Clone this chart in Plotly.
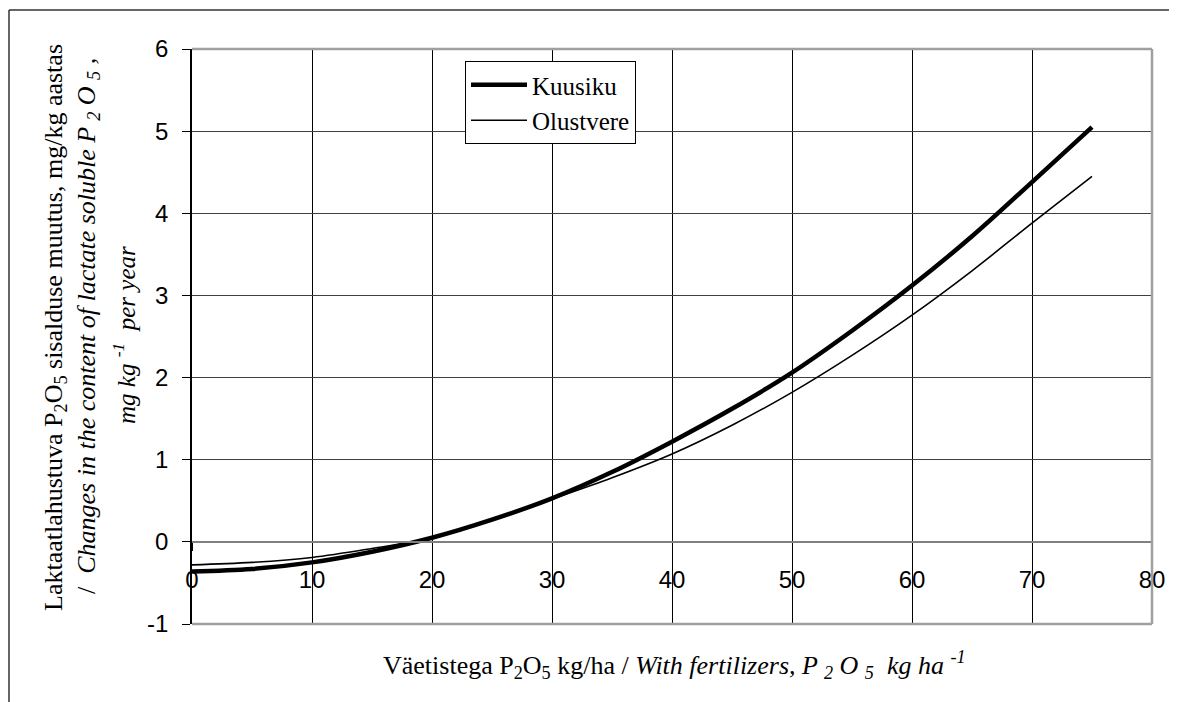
import plotly.graph_objects as go

# Data
fert = [0, 5, 10, 15, 20, 25, 30, 35, 40, 45, 50, 55, 60, 65, 70, 75]
kuusiku = [-0.36, -0.33, -0.25, -0.12, 0.05, 0.27, 0.53, 0.85, 1.22, 1.62, 2.06, 2.57, 3.12, 3.72, 4.38, 5.05]
olustvere = [-0.28, -0.25, -0.19, -0.08, 0.05, 0.27, 0.52, 0.78, 1.07, 1.42, 1.82, 2.27, 2.76, 3.30, 3.88, 4.45]

x_ticks = [0, 10, 20, 30, 40, 50, 60, 70, 80]
y_ticks = [-1, 0, 1, 2, 3, 4, 5, 6]

OFF = 8  # page body margin
W, H = 1177 - OFF, 702 - OFF
L, R, T, B = 192 - OFF, 25, 49 - OFF, 78
PW, PH = W - L - R, H - T - B

def px_x(p):
    return (p - OFF - L) / PW

def px_y(p):
    return (H - B - (p - OFF)) / PH

fig = go.Figure()
fig.add_trace(go.Scatter(x=fert, y=kuusiku, name="Kuusiku", mode="lines",
                         line=dict(color="black", width=4.5, shape="spline"),
                         legendgroup="a"))
fig.add_trace(go.Scatter(x=fert, y=olustvere, name="Olustvere", mode="lines",
                         line=dict(color="black", width=1.6, shape="spline"),
                         legendgroup="b"))

tick_font = dict(family="'Liberation Sans', Arial, sans-serif", size=24, color="black")
serif = "'Liberation Serif', 'Times New Roman', Times, serif"

fig.update_layout(
    width=W, height=H,
    margin=dict(l=L, r=R, t=T, b=B),
    paper_bgcolor="white", plot_bgcolor="white",
    showlegend=True,
    font=dict(family=serif, color="black"),
    legend=dict(x=px_x(465), y=px_y(61), xanchor="left", yanchor="top",
                bordercolor="black", borderwidth=1, bgcolor="white",
                font=dict(family=serif, size=25, color="black"),
                tracegroupgap=0, traceorder="grouped",
                itemwidth=56),
    xaxis=dict(range=[0, 80], tickvals=x_ticks, ticktext=[str(v) for v in x_ticks],
               showgrid=True, gridcolor="black", gridwidth=1,
               anchor="free", position=1/7,
               showline=True, linecolor="#808080", linewidth=1.5,
               ticks="outside", ticklen=8, tickcolor="black",
               ticklabelstandoff=9,
               zeroline=False, tickfont=tick_font),
    yaxis=dict(range=[-1, 6], tickvals=y_ticks, ticktext=[str(v) for v in y_ticks],
               showgrid=True, gridcolor="#404040", gridwidth=1,
               showline=True, linecolor="black", linewidth=1.5,
               ticks="outside", ticklen=8, tickcolor="black",
               ticklabelstandoff=9,
               zeroline=False, tickfont=tick_font),
)

# grey plot-area border (top, right, bottom)
border = dict(color="#a0a0a0", width=2.5)
fig.add_shape(type="line", xref="x domain", yref="y domain", x0=0, x1=1, y0=1, y1=1, line=border)
fig.add_shape(type="line", xref="x domain", yref="y domain", x0=1, x1=1, y0=0, y1=1, line=border)
fig.add_shape(type="line", xref="x domain", yref="y domain", x0=0, x1=1, y0=0, y1=0, line=border)

# outer chart frame (top and left)
frame = dict(color="#333333", width=1.5)
fig.add_shape(type="line", xref="paper", yref="paper", x0=px_x(9), x1=px_x(1180),
              y0=px_y(10), y1=px_y(10), line=frame)
fig.add_shape(type="line", xref="paper", yref="paper", x0=px_x(9), x1=px_x(9),
              y0=px_y(10), y1=px_y(705), line=frame)

# axis titles
fig.add_annotation(xref="paper", yref="paper", x=px_x(674), y=px_y(665),
                   xanchor="center", yanchor="middle", showarrow=False,
                   text="Väetistega P<sub>2</sub>O<sub>5</sub> kg/ha / <i>With fertilizers, P <sub>2</sub> O <sub>5</sub>  kg ha <sup>-1</sup></i>",
                   font=dict(family=serif, size=26, color="black"))

ylines = [
    (55, 328, 26, "Laktaatlahustuva P<sub>2</sub>O<sub>5</sub> sisalduse muutus, mg/kg aastas"),
    (88, 326, 26, "/  <i>Changes in the content of lactate soluble P <sub>2</sub> O <sub>5</sub> ,</i>"),
    (124, 335, 25, "<i>mg kg <sup>-1</sup>  per year</i>"),
]
for xp, yp, fs, txt in ylines:
    fig.add_annotation(xref="paper", yref="paper", x=px_x(xp), y=px_y(yp),
                       xanchor="center", yanchor="middle", showarrow=False,
                       textangle=-90, text=txt,
                       font=dict(family=serif, size=fs, color="black"))

fig.write_html("out.html")
